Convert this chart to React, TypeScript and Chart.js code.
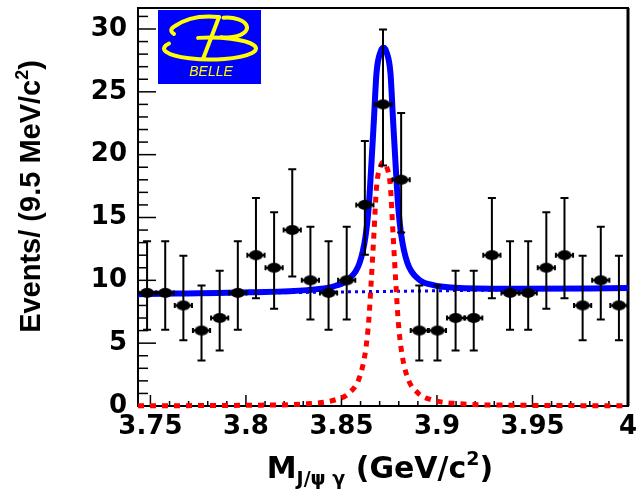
import React, { useEffect, useRef } from 'react';
import { Chart, registerables } from 'chart.js';

Chart.register(...registerables);

// ---- data ----
const binCenters = [
  3.74825, 3.75775, 3.76725, 3.77675, 3.78625, 3.79575, 3.80525, 3.81475, 3.82425,
  3.83375, 3.84325, 3.85275, 3.86225, 3.87175, 3.88125, 3.89075, 3.90025, 3.90975,
  3.91925, 3.92875, 3.93825, 3.94775, 3.95725, 3.96675, 3.97625, 3.98575, 3.99525,
];
const events = [9, 9, 8, 6, 7, 9, 12, 11, 14, 10, 9, 10, 16, 24, 18, 6, 6, 7, 7, 12, 9, 9, 11, 12, 8, 10, 8];
const errLow = [
  2.94, 2.94, 2.77, 2.38, 2.58, 2.94, 3.42, 3.27, 3.7, 3.11, 2.94, 3.11, 3.96, 4.86, 4.2,
  2.38, 2.38, 2.58, 2.58, 3.42, 2.94, 2.94, 3.27, 3.42, 2.77, 3.11, 2.77,
];
const errHigh = [
  4.11, 4.11, 3.95, 3.58, 3.77, 4.11, 4.56, 4.42, 4.83, 4.27, 4.11, 4.27, 5.08, 5.96, 5.32,
  3.58, 3.58, 3.77, 3.77, 4.56, 4.11, 4.11, 4.42, 4.56, 3.95, 4.27, 3.95,
];
const binHalfWidth = 0.0045;

const fitX = [
  3.7435, 3.802, 3.832, 3.847, 3.8537, 3.8595, 3.8626, 3.8643, 3.8655, 3.867, 3.86835,
  3.8705, 3.872, 3.8735, 3.87565, 3.877, 3.8785, 3.8797, 3.8814, 3.8845, 3.8903, 3.897,
  3.912, 3.942, 4.0,
];
const signalY = [
  0.02, 0.06, 0.18, 0.5, 1.0, 2.3, 4.4, 6.8, 9.7, 13.7, 17.4, 19.1, 19.4, 19.1, 17.4, 13.7,
  9.7, 6.8, 4.4, 2.3, 1.0, 0.5, 0.18, 0.06, 0.02,
];
const totalY = [
  8.9, 9.05, 9.22, 9.57, 10.08, 11.39, 13.5, 15.9, 18.8, 22.8, 26.5, 28.2, 28.5, 28.2, 26.5,
  22.8, 18.8, 15.9, 13.5, 11.4, 10.1, 9.65, 9.38, 9.32, 9.38,
];
const bgX = [3.7435, 4.0];
const bgY = [8.88, 9.35];

const xTickVals = [3.75, 3.8, 3.85, 3.9, 3.95, 4];
const yTickVals = [0, 5, 10, 15, 20, 25, 30];
const xTickLabels = ['3.75', '3.8', '3.85', '3.9', '3.95', '4'];

const xTitleParts = ['M', 'J/\u03C8 \u03B3', ' (GeV/c', '2', ')'];
const yTitleParts = ['Events/ (9.5 MeV/c', '2', ')'];
const logoText = 'BELLE';

export default function App() {
  const ref = useRef<HTMLCanvasElement>(null);

  useEffect(() => {
    document.body.style.margin = '0';
    const canvas = ref.current!;

    const marker = document.createElement('canvas');
    marker.width = 16;
    marker.height = 12;
    const mg = marker.getContext('2d')!;
    mg.fillStyle = '#000';
    mg.beginPath();
    mg.ellipse(8, 6, 7, 5, 0, 0, Math.PI * 2);
    mg.fill();

    const framePlugin = {
      id: 'frameTicks',
      beforeDatasetsDraw(chart: any) {
        const { ctx, chartArea: a, scales } = chart;
        ctx.save();
        ctx.strokeStyle = '#000';
        ctx.lineWidth = 1.5;
        for (let i = 0; i <= 31; i++) {
          const y = scales.y.getPixelForValue(i);
          const len = i % 5 === 0 ? 18 : 10;
          ctx.beginPath();
          ctx.moveTo(a.left, y);
          ctx.lineTo(a.left + len, y);
          ctx.stroke();
        }
        for (let i = 0; i <= 25; i++) {
          const x = scales.x.getPixelForValue(3.75 + i * 0.01);
          const len = i % 5 === 0 ? 11 : 5;
          ctx.beginPath();
          ctx.moveTo(x, a.bottom);
          ctx.lineTo(x, a.bottom - len);
          ctx.stroke();
        }
        ctx.lineWidth = 2;
        ctx.strokeRect(a.left, a.top, a.right - a.left, a.bottom - a.top);
        ctx.lineWidth = 3;
        ctx.beginPath();
        ctx.moveTo(a.right, a.top);
        ctx.lineTo(a.right, a.bottom);
        ctx.stroke();
        ctx.restore();
      },
    };

    const errorPlugin = {
      id: 'errorBars',
      afterDatasetsDraw(chart: any) {
        const { ctx, scales } = chart;
        ctx.save();
        ctx.strokeStyle = '#000';
        ctx.lineWidth = 2;
        for (let i = 0; i < binCenters.length; i++) {
          const px = scales.x.getPixelForValue(binCenters[i]);
          const py = scales.y.getPixelForValue(events[i]);
          const top = scales.y.getPixelForValue(events[i] + errHigh[i]);
          const bot = scales.y.getPixelForValue(events[i] - errLow[i]);
          ctx.beginPath();
          ctx.moveTo(px, top);
          ctx.lineTo(px, bot);
          ctx.moveTo(px - 4, top);
          ctx.lineTo(px + 4, top);
          ctx.moveTo(px - 4, bot);
          ctx.lineTo(px + 4, bot);
          const xl = scales.x.getPixelForValue(binCenters[i] - binHalfWidth);
          const xr = scales.x.getPixelForValue(binCenters[i] + binHalfWidth);
          ctx.moveTo(xl, py);
          ctx.lineTo(xr, py);
          ctx.moveTo(xl, py - 2.5);
          ctx.lineTo(xl, py + 2.5);
          ctx.moveTo(xr, py - 2.5);
          ctx.lineTo(xr, py + 2.5);
          ctx.stroke();
        }
        ctx.restore();
      },
    };

    const decoPlugin = {
      id: 'deco',
      afterDraw(chart: any) {
        const ctx = chart.ctx as CanvasRenderingContext2D;
        ctx.save();
        // logo
        ctx.fillStyle = '#0000ff';
        ctx.fillRect(158, 10, 103, 74);
        ctx.strokeStyle = '#ffff00';
        ctx.fillStyle = '#ffff00';
        ctx.lineWidth = 4;
        ctx.lineCap = 'round';
        ctx.beginPath();
        ctx.ellipse(210, 48.5, 46, 11, 0, (207 * Math.PI) / 180, (255 * Math.PI) / 180, true);
        ctx.stroke();
        ctx.beginPath();
        ctx.moveTo(219, 17);
        ctx.lineTo(203, 59);
        ctx.stroke();
        ctx.beginPath();
        ctx.ellipse(227, 27.5, 20, 10, 0, -1.75, 1.85, false);
        ctx.stroke();
        ctx.beginPath();
        ctx.moveTo(174, 34);
        ctx.quadraticCurveTo(168, 30, 175, 26);
        ctx.quadraticCurveTo(192, 14, 219, 17);
        ctx.stroke();
        ctx.font = 'italic 14px "Liberation Sans"';
        ctx.textAlign = 'center';
        ctx.textBaseline = 'middle';
        ctx.fillText(logoText, 211, 72);

        // x title
        ctx.fillStyle = '#000';
        ctx.textAlign = 'left';
        ctx.textBaseline = 'alphabetic';
        const big = 'bold 30px "DejaVu Sans"';
        const small = 'bold 19px "DejaVu Sans"';
        const xs: [string, string, number][] = [
          [xTitleParts[0], big, 0],
          [xTitleParts[1], small, 7],
          [xTitleParts[2], big, 0],
          [xTitleParts[3], small, -13],
          [xTitleParts[4], big, 0],
        ];
        let total = 0;
        for (const [t, f] of xs) {
          ctx.font = f;
          total += ctx.measureText(t).width;
        }
        let cx = 380 - total / 2;
        for (const [t, f, dy] of xs) {
          ctx.font = f;
          ctx.fillText(t, cx, 478 + dy);
          cx += ctx.measureText(t).width;
        }

        // y title
        const ybig = 'bold 29px "Liberation Sans"';
        const ysmall = 'bold 18px "Liberation Sans"';
        const ys: [string, string, number][] = [
          [yTitleParts[0], ybig, 0],
          [yTitleParts[1], ysmall, -12],
          [yTitleParts[2], ybig, 0],
        ];
        ctx.translate(40, 196.5);
        ctx.rotate(-Math.PI / 2);
        total = 0;
        for (const [t, f] of ys) {
          ctx.font = f;
          total += ctx.measureText(t).width;
        }
        cx = -total / 2;
        for (const [t, f, dy] of ys) {
          ctx.font = f;
          ctx.fillText(t, cx, dy);
          cx += ctx.measureText(t).width;
        }
        ctx.restore();
      },
    };

    const tickFont = { family: '"DejaVu Sans"', weight: 'bold' as const, size: 26, lineHeight: 1.2 };

    const chart = new Chart(canvas, {
      type: 'scatter',
      data: {
        datasets: [
          {
            label: 'data',
            data: binCenters.map((x, i) => ({ x, y: events[i] })),
            pointStyle: marker,
            pointRadius: 7,
            showLine: false,
            order: 0,
          },
          {
            label: 'fit',
            data: fitX.map((x, i) => ({ x, y: totalY[i] })),
            showLine: true,
            borderColor: '#0000ff',
            borderWidth: 6,
            pointRadius: 0,
            cubicInterpolationMode: 'monotone',
            order: 1,
          },
          {
            label: 'signal',
            data: fitX.map((x, i) => ({ x, y: signalY[i] })),
            showLine: true,
            borderColor: '#ff0000',
            borderWidth: 5,
            borderDash: [6, 6],
            pointRadius: 0,
            cubicInterpolationMode: 'monotone',
            clip: false,
            order: 2,
          },
          {
            label: 'background',
            data: bgX.map((x, i) => ({ x, y: bgY[i] })),
            showLine: true,
            borderColor: '#0000ff',
            borderWidth: 3,
            borderDash: [3, 4],
            pointRadius: 0,
            order: 3,
          },
        ],
      },
      options: {
        animation: false,
        responsive: false,
        layout: { padding: { top: 7, right: 9, left: 0, bottom: 0 } },
        plugins: { legend: { display: false }, tooltip: { enabled: false } },
        scales: {
          x: {
            type: 'linear',
            min: 3.7435,
            max: 4.0,
            grid: { display: false, drawTicks: false },
            border: { display: false },
            afterBuildTicks: (s: any) => {
              s.ticks = xTickVals.map((v) => ({ value: v }));
            },
            afterFit: (s: any) => {
              s.height = 87;
              s.paddingLeft = 0;
              s.paddingRight = 0;
            },
            ticks: {
              color: '#000',
              font: tickFont,
              padding: 6,
              maxRotation: 0,
              autoSkip: false,
              callback: (v: any) => xTickLabels[xTickVals.indexOf(Number(v))] ?? String(v),
            },
          },
          y: {
            type: 'linear',
            min: 0,
            max: 31.67,
            grid: { display: false, drawTicks: false },
            border: { display: false },
            afterBuildTicks: (s: any) => {
              s.ticks = yTickVals.map((v) => ({ value: v }));
            },
            afterFit: (s: any) => {
              s.width = 138;
              s.paddingTop = 0;
              s.paddingBottom = 0;
            },
            ticks: {
              color: '#000',
              font: tickFont,
              padding: 11,
              autoSkip: false,
              callback: (v: any) => String(v),
            },
          },
        },
      },
      plugins: [framePlugin, errorPlugin, decoPlugin],
    } as any);

    return () => chart.destroy();
  }, []);

  return (
    <div style={{ width: 637, height: 493, background: '#fff' }}>
      <canvas ref={ref} width={637} height={493} />
    </div>
  );
}
